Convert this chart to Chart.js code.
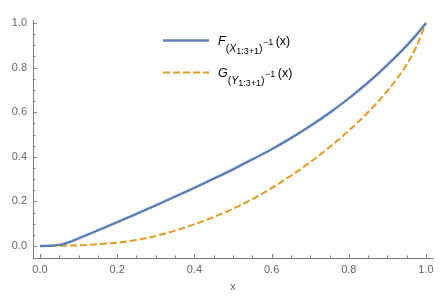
<!DOCTYPE html>
<html>
<head>
<meta charset="utf-8">
<script src="https://cdn.jsdelivr.net/npm/chart.js@4/dist/chart.umd.min.js"></script>
<style>
  html, body { margin: 0; padding: 0; background: #fff; }
  #wrap { width: 443px; height: 296px; }
</style>
</head>
<body>
<div id="wrap"><canvas id="myChart" width="443" height="296"></canvas></div>
<script>
// values
const xs      = [0, 0.025, 0.05, 0.075, 0.1, 0.15, 0.2, 0.25, 0.3, 0.35, 0.4, 0.45, 0.5, 0.55, 0.6, 0.65, 0.7, 0.75, 0.8, 0.85, 0.9, 0.95, 0.975, 1];
const fValues = [0, 0.001, 0.005, 0.017, 0.034, 0.07, 0.107, 0.144, 0.182, 0.221, 0.261, 0.302, 0.344, 0.388, 0.434, 0.484, 0.538, 0.597, 0.662, 0.733, 0.812, 0.899, 0.947, 1];
const gValues = [0, 0, 0.001, 0.002, 0.003, 0.008, 0.015, 0.027, 0.045, 0.069, 0.097, 0.13, 0.167, 0.21, 0.26, 0.315, 0.376, 0.443, 0.517, 0.6, 0.696, 0.814, 0.895, 1];
const majorTicks = [0, 0.2, 0.4, 0.6, 0.8, 1.0];
const minorTicks = [0.05, 0.1, 0.15, 0.25, 0.3, 0.35, 0.45, 0.5, 0.55, 0.65, 0.7, 0.75, 0.85, 0.9, 0.95];

const blue = '#5e81b5';
const orange = '#e19c24';
const axisGray = '#808080';
const textGray = '#666666';
const fontFam = '"Liberation Sans", Arial, sans-serif';

// ticks pointing into the plot, like the original
const inwardTicks = {
  id: 'inwardTicks',
  afterDraw(chart) {
    const ctx = chart.ctx;
    const sx = chart.scales.x, sy = chart.scales.y;
    const area = chart.chartArea;
    ctx.save();
    ctx.strokeStyle = axisGray;
    ctx.lineWidth = 1;
    const draw = (v, len) => {
      const px = Math.round(sx.getPixelForValue(v)) + 0.5;
      ctx.beginPath(); ctx.moveTo(px, area.bottom); ctx.lineTo(px, area.bottom - len); ctx.stroke();
      const py = Math.round(sy.getPixelForValue(v)) + 0.5;
      ctx.beginPath(); ctx.moveTo(area.left, py); ctx.lineTo(area.left + len, py); ctx.stroke();
    };
    majorTicks.forEach(v => draw(v, 4));
    minorTicks.forEach(v => draw(v, 2.5));
    ctx.restore();
  }
};

// legend with sub/superscripts
const mathLegend = {
  id: 'mathLegend',
  afterDraw(chart) {
    const ctx = chart.ctx;
    ctx.save();
    ctx.fillStyle = '#000';
    ctx.textBaseline = 'alphabetic';
    const rows = [
      { letter: 'F', sub: 'X', color: blue, dash: [], width: 2.5, y: 45 },
      { letter: 'G', sub: 'Y', color: orange, dash: [7, 3], width: 2, y: 77 }
    ];
    rows.forEach(r => {
      ctx.strokeStyle = r.color;
      ctx.lineWidth = r.width;
      ctx.setLineDash(r.dash);
      ctx.beginPath(); ctx.moveTo(163, r.y - 4.5); ctx.lineTo(209, r.y - 4.5); ctx.stroke();
      ctx.setLineDash([]);
      let x = 218;
      const put = (txt, size, style, dy) => {
        ctx.font = style + ' ' + size + 'px ' + fontFam;
        ctx.fillText(txt, x, r.y + dy);
        x += ctx.measureText(txt).width;
      };
      put(r.letter, 12.5, 'italic', 0);
      put('(', 10.5, 'normal', 6.5);
      put(r.sub, 10.5, 'italic', 6.5);
      put('1:3+1', 9, 'normal', 8.5);
      put(')', 10.5, 'normal', 6.5);
      x += 0.5;
      put('\u22121', 9, 'normal', -0.5);
      x += 2.5;
      put('(x)', 12.5, 'normal', 0);
    });
    ctx.restore();
  }
};

const ctx = document.getElementById('myChart').getContext('2d');
const chart = new Chart(ctx, {
  type: 'line',
  data: {
    datasets: [
      {
        label: 'F',
        data: xs.map((x, i) => ({ x: x, y: fValues[i] })),
        borderColor: blue,
        borderWidth: 2.5,
        pointRadius: 0,
        cubicInterpolationMode: 'monotone',
        fill: false
      },
      {
        label: 'G',
        data: xs.map((x, i) => ({ x: x, y: gValues[i] })),
        borderColor: orange,
        borderWidth: 2,
        borderDash: [7, 3],
        pointRadius: 0,
        cubicInterpolationMode: 'monotone',
        fill: false
      }
    ]
  },
  options: {
    responsive: false,
    animation: false,
    layout: { padding: { top: 20, right: 10, left: 0, bottom: 0 } },
    plugins: { legend: { display: false }, tooltip: { enabled: false } },
    scales: {
      x: {
        type: 'linear',
        min: -0.0181,
        max: 1.0181,
        afterBuildTicks: s => { s.ticks = majorTicks.map(v => ({ value: v })); },
        afterFit: s => { s.height = 38; },
        grid: { display: false, drawTicks: false },
        border: { display: true, color: axisGray, width: 1 },
        ticks: {
          padding: 5,
          color: textGray,
          font: { family: fontFam, size: 11 },
          maxRotation: 0,
          callback: v => Number(v).toFixed(1)
        },
        title: {
          display: true,
          text: 'x',
          color: textGray,
          font: { family: fontFam, size: 11 },
          padding: { top: 0, bottom: 2 }
        }
      },
      y: {
        min: -0.0538,
        max: 1.0135,
        afterBuildTicks: s => { s.ticks = majorTicks.map(v => ({ value: v })); },
        afterFit: s => { s.width = 33; },
        grid: { display: false, drawTicks: false },
        border: { display: true, color: axisGray, width: 1 },
        ticks: {
          padding: 6,
          color: textGray,
          font: { family: fontFam, size: 11 },
          callback: v => Number(v).toFixed(1)
        }
      }
    }
  },
  plugins: [inwardTicks, mathLegend]
});
</script>
</body>
</html>
